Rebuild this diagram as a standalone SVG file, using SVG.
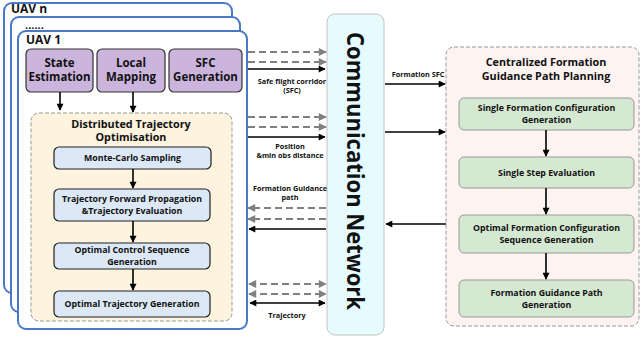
<svg xmlns="http://www.w3.org/2000/svg" width="642" height="341" viewBox="0 0 642 341">
  <defs>
    <marker id="ah" viewBox="0 0 10 10" refX="9" refY="5" markerWidth="9" markerHeight="7" markerUnits="userSpaceOnUse" orient="auto-start-reverse">
      <path d="M0,0 L10,5 L0,10 z" fill="#000"/>
    </marker>
    <marker id="ahg" viewBox="0 0 10 10" refX="9" refY="5" markerWidth="9" markerHeight="8" markerUnits="userSpaceOnUse" orient="auto-start-reverse">
      <path d="M0,0 L10,5 L0,10 z" fill="#808080"/>
    </marker>
  </defs>
  <style>
    text { font-family: "Open Sans", "Noto Sans", "Liberation Sans", sans-serif; font-weight: bold; fill: #111; }
    .uav { fill: #fff; stroke: #4A78C8; stroke-width: 2; }
    .uavlbl { font-size: 12px; }
    .dots { font-size: 11px; }
    .purple { fill: #CBB5DD; stroke: #333; stroke-width: 1.2; }
    .plbl { font-size: 11.5px; text-anchor: middle; }
    .dto { fill: #FDF3DE; stroke: #999; stroke-width: 1; stroke-dasharray: 4 2; }
    .blue { fill: #DCE8F6; stroke: #222; stroke-width: 1.2; }
    .blbl { font-size: 8.8px; text-anchor: middle; }
    .title { font-size: 10.8px; text-anchor: middle; }
    .comm { fill: #E6FBFD; stroke: #C4C4C4; stroke-width: 1; }
    .cfg { fill: #FDF3F1; stroke: #999; stroke-width: 1; stroke-dasharray: 4 2; }
    .green { fill: #D5E8D2; stroke: #999; stroke-width: 1; }
    .small { font-size: 7.3px; text-anchor: middle; }
    .sol { stroke: #000; stroke-width: 1.6; fill: none; }
    .dsh { stroke: #808080; stroke-width: 2; stroke-dasharray: 7 4; fill: none; }
  </style>

  <!-- stacked UAV frames -->
  <g id="uav-n">
    <rect class="uav" x="4" y="3" width="228" height="290" rx="8"/>
    <text class="uavlbl" x="11" y="13">UAV n</text>
  </g>
  <g id="uav-mid">
    <rect class="uav" x="11" y="17" width="229" height="295" rx="8"/>
    <text class="dots" x="25" y="28.5">......</text>
  </g>
  <g id="uav-1">
    <rect class="uav" x="18" y="31" width="229" height="298" rx="8"/>
    <text class="uavlbl" x="26" y="44">UAV 1</text>
  </g>

  <!-- onboard modules -->
  <g id="state-estimation">
    <rect class="purple" x="26" y="49" width="67" height="43" rx="5"/>
    <text class="plbl" x="59.5" y="67">State</text>
    <text class="plbl" x="59.5" y="81">Estimation</text>
  </g>
  <g id="local-mapping">
    <rect class="purple" x="97" y="49" width="68" height="43" rx="5"/>
    <text class="plbl" x="131" y="67">Local</text>
    <text class="plbl" x="131" y="81">Mapping</text>
  </g>
  <g id="sfc-generation">
    <rect class="purple" x="169" y="49" width="73" height="43" rx="5"/>
    <text class="plbl" x="205.5" y="67">SFC</text>
    <text class="plbl" x="205.5" y="81">Generation</text>
  </g>

  <!-- distributed trajectory optimisation -->
  <g id="dto">
    <rect class="dto" x="31" y="113" width="201" height="208" rx="8"/>
    <text class="title" x="131" y="127.5">Distributed Trajectory</text>
    <text class="title" x="131" y="141">Optimisation</text>
  </g>
  <g id="mc-sampling">
    <rect class="blue" x="54" y="147" width="157" height="22" rx="5"/>
    <text class="blbl" x="132.5" y="161.2">Monte-Carlo Sampling</text>
  </g>
  <g id="forward-propagation">
    <rect class="blue" x="54" y="189" width="156" height="32" rx="5"/>
    <text class="blbl" x="132" y="202">Trajectory Forward Propagation</text>
    <text class="blbl" x="132" y="214">&amp;Trajectory Evaluation</text>
  </g>
  <g id="control-sequence">
    <rect class="blue" x="54" y="243" width="156" height="26" rx="5"/>
    <text class="blbl" x="132" y="253">Optimal Control Sequence</text>
    <text class="blbl" x="132" y="265">Generation</text>
  </g>
  <g id="trajectory-generation">
    <rect class="blue" x="54" y="291" width="156" height="26" rx="5"/>
    <text class="blbl" x="132" y="307.2">Optimal Trajectory Generation</text>
  </g>

  <!-- communication network -->
  <g id="comm-network">
    <rect class="comm" x="327" y="14" width="57" height="321" rx="8"/>
    <text transform="translate(346.5,171) rotate(90)" text-anchor="middle" font-size="23" textLength="278" lengthAdjust="spacingAndGlyphs">Communication Network</text>
  </g>

  <!-- centralized planner -->
  <g id="centralized">
    <rect class="cfg" x="446" y="47" width="193" height="279" rx="8"/>
    <text class="title" x="546" y="66">Centralized Formation</text>
    <text class="title" x="546" y="80">Guidance Path Planning</text>
  </g>
  <g id="single-config">
    <rect class="green" x="459" y="98" width="175" height="32" rx="5"/>
    <text class="blbl" x="546.5" y="111">Single Formation Configuration</text>
    <text class="blbl" x="546.5" y="123">Generation</text>
  </g>
  <g id="single-step">
    <rect class="green" x="459" y="157" width="175" height="31" rx="5"/>
    <text class="blbl" x="546.5" y="175.5">Single Step Evaluation</text>
  </g>
  <g id="optimal-config">
    <rect class="green" x="459" y="215" width="175" height="38" rx="5"/>
    <text class="blbl" x="546.5" y="231">Optimal Formation Configuration</text>
    <text class="blbl" x="546.5" y="243">Sequence Generation</text>
  </g>
  <g id="guidance-path">
    <rect class="green" x="459" y="280" width="175" height="37" rx="5"/>
    <text class="blbl" x="546.5" y="296">Formation Guidance Path</text>
    <text class="blbl" x="546.5" y="308">Generation</text>
  </g>

  <!-- connectors -->
  <g id="connectors">
    <line class="sol" x1="60" y1="92" x2="60" y2="110" marker-end="url(#ah)"/>
    <line class="sol" x1="133" y1="92" x2="133" y2="112" marker-end="url(#ah)"/>
    <line class="sol" x1="133" y1="169" x2="133" y2="188" marker-end="url(#ah)"/>
    <line class="sol" x1="133" y1="221" x2="133" y2="242" marker-end="url(#ah)"/>
    <line class="sol" x1="133" y1="269" x2="133" y2="290" marker-end="url(#ah)"/>

    <line class="sol" x1="546" y1="130" x2="546" y2="156" marker-end="url(#ah)"/>
    <line class="sol" x1="546" y1="188" x2="546" y2="214" marker-end="url(#ah)"/>
    <line class="sol" x1="546" y1="253" x2="546" y2="279" marker-end="url(#ah)"/>

    <!-- UAV to network -->
    <line class="dsh" x1="248" y1="52" x2="326" y2="52" marker-end="url(#ahg)"/>
    <line class="dsh" x1="248" y1="62" x2="326" y2="62" marker-end="url(#ahg)"/>
    <line class="sol" x1="248" y1="69" x2="325" y2="69" marker-end="url(#ah)"/>
    <text class="small" x="292" y="84">Safe flight corridor</text>
    <text class="small" x="292" y="93">(SFC)</text>

    <line class="dsh" x1="248" y1="117" x2="326" y2="117" marker-end="url(#ahg)"/>
    <line class="dsh" x1="248" y1="127" x2="326" y2="127" marker-end="url(#ahg)"/>
    <line class="sol" x1="248" y1="137" x2="325" y2="137" marker-end="url(#ah)"/>
    <text class="small" x="290" y="149">Position</text>
    <text class="small" x="290" y="158">&amp;min obs distance</text>

    <!-- network to UAV -->
    <text class="small" x="290" y="191">Formation Guidance</text>
    <text class="small" x="290" y="200">path</text>
    <line class="dsh" x1="326" y1="208" x2="248" y2="208" marker-end="url(#ahg)"/>
    <line class="dsh" x1="326" y1="219" x2="248" y2="219" marker-end="url(#ahg)"/>
    <line class="sol" x1="326" y1="229" x2="249" y2="229" marker-end="url(#ah)"/>

    <!-- trajectory exchange -->
    <line class="dsh" x1="249" y1="284" x2="326" y2="284" marker-start="url(#ahg)" marker-end="url(#ahg)"/>
    <line class="dsh" x1="249" y1="294" x2="326" y2="294" marker-start="url(#ahg)" marker-end="url(#ahg)"/>
    <line class="sol" x1="250" y1="303" x2="325" y2="303" marker-start="url(#ah)" marker-end="url(#ah)"/>
    <text class="small" x="287" y="318">Trajectory</text>

    <!-- network to centralized planner -->
    <line class="sol" x1="385" y1="84" x2="445" y2="84" marker-end="url(#ah)"/>
    <text class="small" x="418" y="77">Formation SFC</text>
    <line class="sol" x1="385" y1="132" x2="445" y2="132" marker-end="url(#ah)"/>
    <line class="sol" x1="446" y1="224" x2="386" y2="224" marker-end="url(#ah)"/>
  </g>
</svg>
